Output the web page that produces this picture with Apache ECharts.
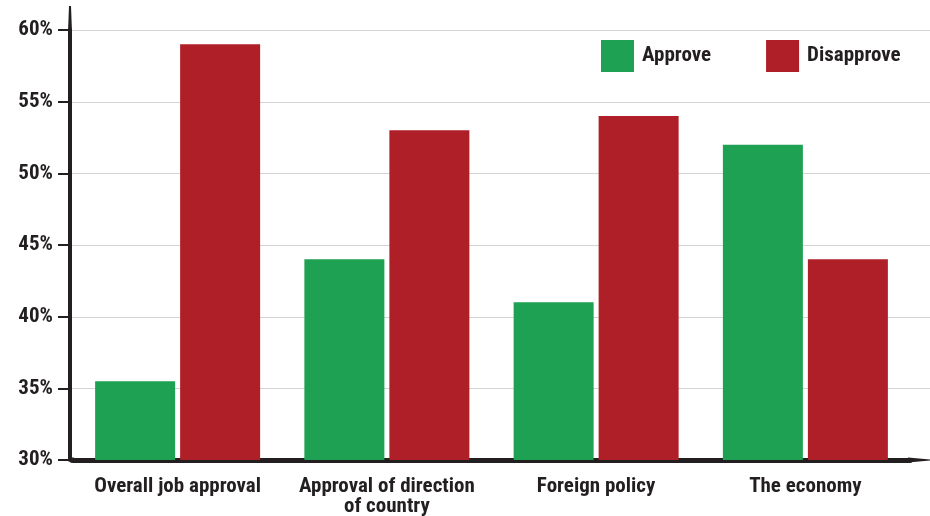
<!DOCTYPE html>
<html><head><meta charset="utf-8">
<script src="https://cdn.jsdelivr.net/npm/echarts@6/dist/echarts.min.js"></script>
<style>html,body{margin:0;padding:0;background:#fff}#c{width:930px;height:516px}</style>
</head><body><div id="c"></div>
<script>
var categories = ['Overall job approval', 'Approval of direction\nof country', 'Foreign policy', 'The economy'];
var approve = [35.5, 44, 41, 52];
var disapprove = [59, 53, 54, 44];
var yTicks = [30, 35, 40, 45, 50, 55, 60];

var FONT = '"Roboto Condensed", "Liberation Sans Narrow", sans-serif';
var ink = '#231f20';
var GRID_L = 73, GRID_R = 20, AXIS_OFF = 3;
var chart = echarts.init(document.getElementById('c'), null, {renderer: 'canvas'});
chart.setOption({
  backgroundColor: '#fff',
  animation: false,
  textStyle: {fontFamily: FONT},
  grid: {left: GRID_L, right: GRID_R, top: 30, bottom: 56, containLabel: false, outerBoundsMode: 'none'},
  legend: {
    orient: 'horizontal', top: 40, left: 601, width: 329, padding: 0,
    itemWidth: 33, itemHeight: 32, itemGap: 55,
    icon: 'rect',
    textStyle: {fontFamily: FONT, fontWeight: 'bold', fontSize: 21, color: ink, padding: [0, 0, 0, 3]},
    data: ['Approve', 'Disapprove']
  },
  xAxis: {
    type: 'category', data: categories,
    axisLine: {lineStyle: {color: ink, width: 5}},
    axisTick: {show: false},
    axisLabel: {fontFamily: FONT, fontWeight: 'bold', fontSize: 21, color: ink, margin: 17, lineHeight: 20, interval: 0}
  },
  yAxis: {
    type: 'value', min: yTicks[0], max: yTicks[yTicks.length - 1], interval: 5,
    offset: AXIS_OFF,
    axisLine: {show: true, lineStyle: {color: ink, width: 4}},
    axisTick: {show: true, length: 12, lineStyle: {color: ink, width: 2}},
    axisLabel: {fontFamily: FONT, fontWeight: 'bold', fontSize: 21, color: ink, margin: 17, formatter: '{value}%'},
    splitLine: {show: false}
  },
  series: [
    {name: 'Approve', type: 'bar', data: approve, barWidth: 80, barGap: '6.25%', itemStyle: {color: '#1ea152'}},
    {name: 'Disapprove', type: 'bar', data: disapprove, barWidth: 80, itemStyle: {color: '#af1f27'}}
  ]
});
var top60 = chart.convertToPixel({yAxisIndex: 0}, yTicks[yTicks.length - 1]);
var bottom30 = chart.convertToPixel({yAxisIndex: 0}, yTicks[0]);
var rightEdge = 930 - GRID_R;
var x0 = GRID_L - AXIS_OFF;
var g = [{
  type: 'polygon', z: 10,
  shape: {points: [[x0 - 1, 6], [x0 + 1, 6], [x0 + 2, top60 + 2], [x0 - 2, top60 + 2]]},
  style: {fill: ink}
}, {
  type: 'rect', z: 10,
  shape: {x: x0, y: bottom30 - 2.5, width: GRID_L - x0 + 1, height: 5},
  style: {fill: ink}
}, {
  type: 'polygon', z: 10,
  shape: {points: [[rightEdge - 2, bottom30 - 2.5], [930, bottom30 - 0.5], [930, bottom30 + 0.5], [rightEdge - 2, bottom30 + 2.5]]},
  style: {fill: ink}
}];
yTicks.slice(1).forEach(function (t) {
  var y = Math.round(chart.convertToPixel({yAxisIndex: 0}, t)) + 0.5;
  g.push({type: 'line', z: -1, shape: {x1: x0, y1: y, x2: 930, y2: y}, style: {stroke: '#d4d4d4', lineWidth: 1}});
});
chart.setOption({graphic: g});
</script></body></html>
